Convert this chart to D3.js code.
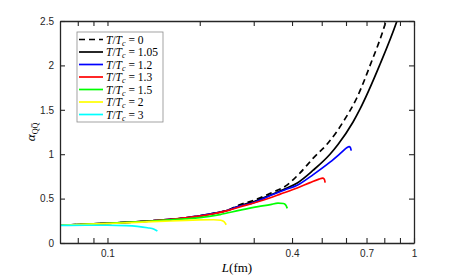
<!DOCTYPE html>
<html>
<head>
<meta charset="utf-8">
<script src="https://cdn.jsdelivr.net/npm/d3@7"></script>
<style>
  body { margin: 0; background: #fff; }
  .tick text { font-family: "Liberation Sans", Arial, sans-serif; font-size: 10px; fill: #262626; }
  .tick line, .domain { stroke: #262626; }
  .lbl { font-family: "Liberation Serif", "DejaVu Serif", serif; fill: #000; }
</style>
</head>
<body>
<div id="chart"></div>
<script>
// datos: [L (fm), alpha]
var curveT0 = [[0.07, 0.2], [0.08, 0.207], [0.1, 0.222], [0.12, 0.236], [0.14, 0.25], [0.16, 0.265], [0.18, 0.284],
    [0.2, 0.305], [0.22, 0.33], [0.25, 0.378], [0.27, 0.43], [0.3, 0.48], [0.34, 0.56], [0.386, 0.655], [0.425, 0.79],
    [0.469, 0.955], [0.521, 1.115], [0.56, 1.255], [0.59, 1.375], [0.65, 1.63], [0.719, 2.0], [0.81, 2.5], [0.84, 2.7]];
var curveT105 = [[0.07, 0.2], [0.08, 0.207], [0.1, 0.222], [0.12, 0.236], [0.14, 0.25], [0.16, 0.265], [0.18, 0.284],
    [0.2, 0.305], [0.22, 0.33], [0.25, 0.375], [0.27, 0.42], [0.3, 0.465], [0.34, 0.54], [0.38, 0.61], [0.416, 0.676],
    [0.469, 0.82], [0.532, 1.0], [0.565, 1.11], [0.632, 1.36], [0.667, 1.51], [0.772, 2.0], [0.88, 2.5], [0.92, 2.7]];
var curveT12 = [[0.07, 0.2], [0.08, 0.207], [0.1, 0.222], [0.12, 0.236], [0.14, 0.25], [0.16, 0.265], [0.18, 0.284],
    [0.2, 0.305], [0.22, 0.33], [0.25, 0.375], [0.27, 0.415], [0.3, 0.455], [0.34, 0.535], [0.38, 0.6], [0.416, 0.65],
    [0.469, 0.77], [0.532, 0.91], [0.58, 1.02], [0.605, 1.075], [0.614, 1.085], [0.62, 1.075], [0.624, 1.04]];
var curveT13 = [[0.07, 0.2], [0.08, 0.207], [0.1, 0.222], [0.12, 0.236], [0.14, 0.25], [0.16, 0.265], [0.18, 0.284],
    [0.2, 0.303], [0.22, 0.327], [0.25, 0.37], [0.27, 0.405], [0.3, 0.45], [0.34, 0.51], [0.366, 0.55], [0.416, 0.62],
    [0.458, 0.68], [0.49, 0.72], [0.503, 0.73], [0.51, 0.718], [0.513, 0.68]];
var curveT15 = [[0.07, 0.2], [0.08, 0.207], [0.1, 0.222], [0.12, 0.235], [0.14, 0.248], [0.16, 0.26], [0.18, 0.272],
    [0.2, 0.285], [0.233, 0.32], [0.271, 0.37], [0.31, 0.41], [0.34, 0.432], [0.36, 0.448], [0.375, 0.445], [0.382, 0.425], [0.386, 0.39]];
var curveT2 = [[0.07, 0.2], [0.08, 0.206], [0.1, 0.219], [0.12, 0.23], [0.14, 0.24], [0.16, 0.248], [0.18, 0.255],
    [0.2, 0.26], [0.222, 0.262], [0.234, 0.256], [0.24, 0.24], [0.244, 0.205]];
var curveT3 = [[0.07, 0.198], [0.085, 0.2], [0.1, 0.2], [0.115, 0.196], [0.125, 0.188], [0.135, 0.172], [0.142, 0.155], [0.1455, 0.135]];

var seriesCurves = [curveT0, curveT105, curveT12, curveT13, curveT15, curveT2, curveT3];
var seriesTemps = ["0", "1.05", "1.2", "1.3", "1.5", "2", "3"];

var xTicks = [0.08, 0.09, 0.1, 0.2, 0.3, 0.4, 0.5, 0.6, 0.7, 0.8, 0.9, 1];
var xTickLabels = [0.1, 0.4, 0.7, 1];
var yTicks = [0, 0.5, 1, 1.5, 2, 2.5];

// estilos
var colors = ["#000", "#000", "#0000ff", "#ff0000", "#00ff00", "#ffff00", "#00ffff"];
var dashes = ["6,4", null, null, null, null, null, null];

var W = 458, H = 277;
var margin = {top: 21, right: 44, bottom: 34, left: 60};
var width = W - margin.left - margin.right,
    height = H - margin.top - margin.bottom;

var svg = d3.select("#chart").append("svg")
    .attr("width", W)
    .attr("height", H);

var x = d3.scaleLog().domain([0.07, 1]).range([0, width]);
var y = d3.scaleLinear().domain([0, 2.5]).range([height, 0]);

var g = svg.append("g")
    .attr("transform", "translate(" + margin.left + "," + margin.top + ")");

g.append("clipPath").attr("id", "clip")
    .append("rect").attr("width", width).attr("height", height);

var line = d3.line()
    .x(function (d) { return x(d[0]); })
    .y(function (d) { return y(d[1]); })
    .curve(d3.curveMonotoneX);

g.append("g").attr("clip-path", "url(#clip)")
    .selectAll("path")
    .data(seriesCurves)
    .enter().append("path")
    .attr("d", line)
    .attr("fill", "none")
    .attr("stroke", function (d, i) { return colors[i]; })
    .attr("stroke-dasharray", function (d, i) { return dashes[i]; })
    .attr("stroke-width", 1.7);

//ejes
var fmt = function (d) { return xTickLabels.indexOf(d) >= 0 ? String(d) : ""; };

g.append("g").attr("transform", "translate(0," + height + ")")
    .call(d3.axisBottom(x).tickValues(xTicks).tickFormat(fmt).tickSizeInner(-5).tickSizeOuter(0).tickPadding(7));
g.append("g")
    .call(d3.axisTop(x).tickValues(xTicks).tickFormat("").tickSizeInner(-5).tickSizeOuter(0));
g.append("g")
    .call(d3.axisLeft(y).tickValues(yTicks).tickFormat(d3.format("")).tickSizeInner(-5).tickSizeOuter(0).tickPadding(6));
g.append("g").attr("transform", "translate(" + width + ",0)")
    .call(d3.axisRight(y).tickValues(yTicks).tickFormat("").tickSizeInner(-5).tickSizeOuter(0));

g.selectAll(".domain").attr("stroke-width", 1.3);
g.selectAll(".tick line").attr("stroke-width", 1.1);

//titulos
var xl = svg.append("text").attr("class", "lbl")
    .attr("x", margin.left + width / 2).attr("y", 272)
    .attr("text-anchor", "middle").style("font-size", "13px");
xl.append("tspan").style("font-style", "italic").text("L");
xl.append("tspan").text("(fm)");

var yl = svg.append("text").attr("class", "lbl")
    .attr("transform", "translate(35," + (margin.top + height / 2) + ") rotate(-90)")
    .attr("text-anchor", "middle").style("font-size", "13px");
yl.append("tspan").style("font-style", "italic").text("α");
yl.append("tspan").attr("dy", 3).style("font-size", "8px").text("QQ\u0305");

//leyenda
var leg = svg.append("g").attr("transform", "translate(77,32)");
leg.append("rect")
    .attr("width", 86).attr("height", 90)
    .attr("fill", "#fff").attr("stroke", "#8c8c8c").attr("stroke-width", 0.8);

var rows = leg.selectAll("g.row")
    .data(seriesTemps)
    .enter().append("g")
    .attr("class", "row")
    .attr("transform", function (d, i) { return "translate(0," + (7.5 + i * 12.5) + ")"; });

rows.append("line")
    .attr("x1", 2).attr("x2", 26)
    .attr("stroke", function (d, i) { return colors[i]; })
    .attr("stroke-dasharray", function (d, i) { return dashes[i]; })
    .attr("stroke-width", 1.7);

var rt = rows.append("text").attr("class", "lbl")
    .attr("x", 29).attr("dy", "0.35em")
    .style("font-size", "11.5px");
rt.append("tspan").style("font-style", "italic").text("T");
rt.append("tspan").text("/");
rt.append("tspan").style("font-style", "italic").text("T");
rt.append("tspan").attr("dy", 2).style("font-size", "8px").style("font-style", "italic").text("c");
rt.append("tspan").attr("dy", -2).text(function (d) { return " = " + d; });
</script>
</body>
</html>
